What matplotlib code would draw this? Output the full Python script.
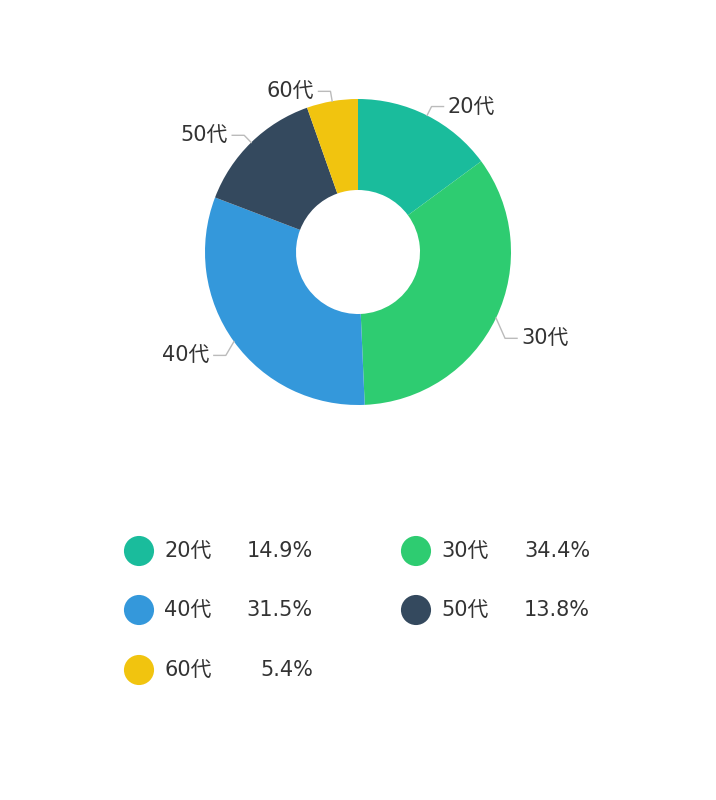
import numpy as np
import matplotlib.pyplot as plt

plt.rcParams['font.family'] = ['DejaVu Sans', 'Noto Sans CJK JP']

labels = ["20代", "30代", "40代", "50代", "60代"]
shares = [14.9, 34.4, 31.5, 13.8, 5.4]
colors = ["#1abc9c", "#2ecc71", "#3498db", "#34495e", "#f1c40f"]

W, H = 716, 800
cx, cy = 358, H - 252
r_out, r_in = 153, 62

fig = plt.figure(figsize=(W / 100, H / 100), dpi=100)
ax = fig.add_axes([0, 0, 1, 1])

wedges, _ = ax.pie(shares, colors=colors, startangle=90, counterclock=False,
                   center=(cx, cy), radius=r_out,
                   wedgeprops=dict(width=r_out - r_in, edgecolor="none"))
ax.set_xlim(0, W)
ax.set_ylim(0, H)
ax.set_aspect("equal")
ax.axis("off")

# leader labels, nudged down where the original drew them lower
nudge = [0, -16, -8, 0, 0]
for w, lab, dy in zip(wedges, labels, nudge):
    ang = np.deg2rad((w.theta1 + w.theta2) / 2)
    x0, y0 = cx + r_out * np.cos(ang), cy + r_out * np.sin(ang)
    x1, y1 = cx + (r_out + 10) * np.cos(ang), cy + (r_out + 10) * np.sin(ang) + dy
    side = 1 if np.cos(ang) >= 0 else -1
    x2 = x1 + side * 12
    ax.plot([x0, x1, x2], [y0, y1, y1], color="#bbbbbb", lw=1)
    ax.text(x2 + side * 4, y1, lab, ha="left" if side > 0 else "right",
            va="center", fontsize=15, color="#333333")

# legend
pos = [(139, 551), (416, 551), (139, 610), (416, 610), (139, 670)]
for (lx, ly), lab, s, c in zip(pos, labels, shares, colors):
    ax.scatter([lx], [H - ly], s=470, color=c, edgecolors="none")
    ax.text(lx + 25, H - ly, lab, ha="left", va="center", fontsize=15, color="#333333")
    ax.text(lx + 174, H - ly, f"{s:.1f}%", ha="right", va="center", fontsize=15, color="#333333")

fig.savefig("out.png", dpi=100, facecolor="white")
